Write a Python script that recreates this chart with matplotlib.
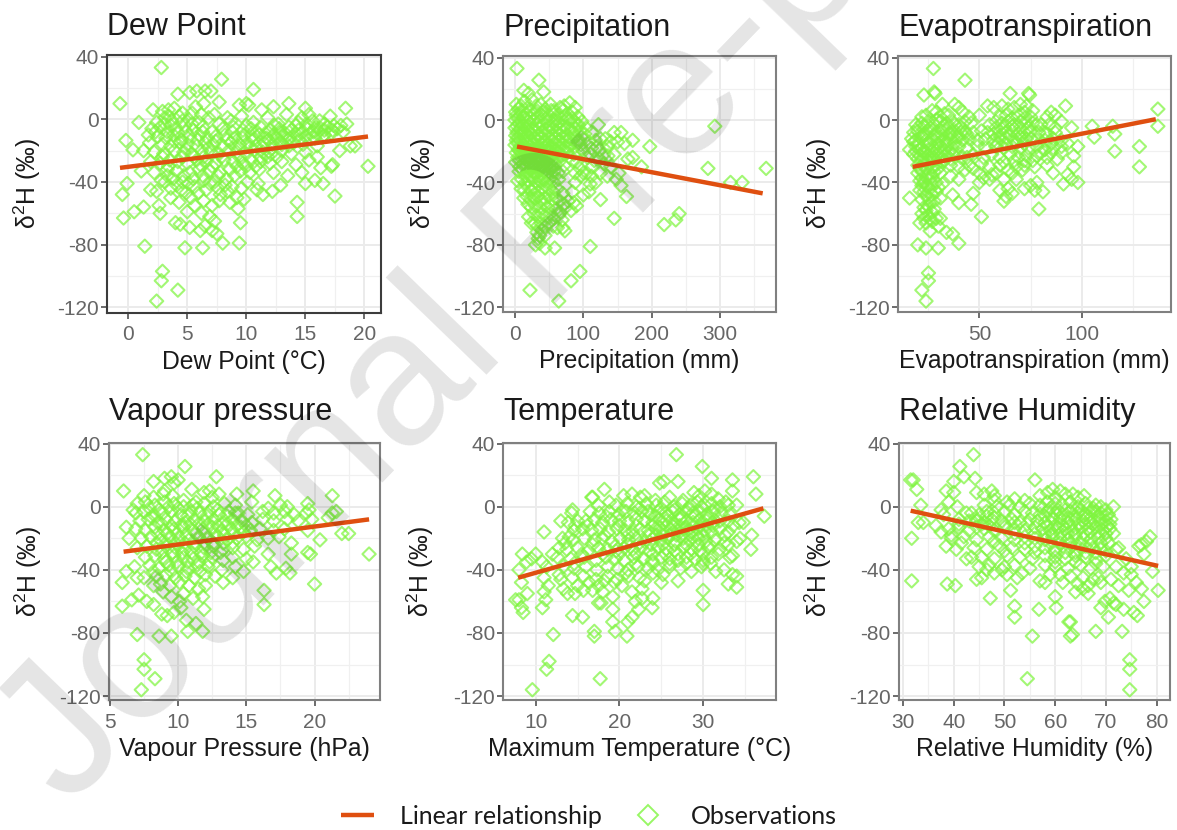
import matplotlib
matplotlib.use("Agg")
import matplotlib.pyplot as plt
from matplotlib.lines import Line2D
from matplotlib.ticker import FixedLocator

plt.rcParams['font.family'] = ['Liberation Sans', 'DejaVu Sans']
plt.rcParams['mathtext.fontset'] = 'custom'
plt.rcParams['mathtext.rm'] = 'Liberation Sans'
plt.rcParams['mathtext.default'] = 'regular'
plt.rcParams['axes.unicode_minus'] = False

W, H = 1177, 830

titles = ["Dew Point", "Precipitation", "Evapotranspiration", "Vapour pressure", "Temperature", "Relative Humidity"]
xlabels = ["Dew Point (°C)", "Precipitation (mm)", "Evapotranspiration (mm)", "Vapour Pressure (hPa)",
           "Maximum Temperature (°C)", "Relative Humidity (%)"]
ylabel = r"$\delta^{2}$H (‰)"
yticks = [40, 0, -40, -80, -120]
yminor = [20, -20, -60, -100]

dew_pts = [(-0.7,10),(2.8,33),(7.9,25.5),(10.6,19),(-0.2,-13.5),(0.4,-19.5),(0.9,-2),(-0.1,-41),(-0.5,-48),(-0.4,-63),(0.5,-59),(1.3,-56),(1.4,-81),(2.9,-97),(2.8,-103),(2.4,-116),(4.2,-109),(4.8,-82),(6.3,-82),(8,-79),(9.4,-79),(7.5,-73),(9.5,-66),(5.2,-69),(4,-66),(4.4,-67),(5,-59),(9.3,-57),(14.3,-53),(14.3,-62),(17.5,-49),(20.3,-30),(18.4,7),(19.2,-17),(18.8,-17),(15,7),(13.6,10),(12.3,8),(10,10),(9.4,9),(7.7,11),(6.5,18),(5.8,18),(5.2,17),(4.2,16),(7,18),(2.1,6),(2.6,-55),(2.7,-60),(5.6,-55),(6.2,-60),(6.9,-62),(7.3,-65),(6.5,-68),(7.1,-71),(6.1,-71),(7.7,-52),(8.6,-53),(9.8,-51),(9.2,-50),(2.4,-46),(1.9,-45),(3.6,-50),(4.3,-53),(4.9,-47),(3.1,-40),(1.3,-20),(1.7,-10),(2.3,-8),
(2.9,5),(3.4,6),(3.9,7),(4.6,4),(5.7,8),(6.4,10),(7.3,3),(8.4,1),(10.2,9),(11.3,6),(13.4,3),(14.7,1),(15.3,3),(16.2,-1),(17.1,2),
(2.4,-2),(3.1,1),(3.7,-1),(4.3,2),(5.1,0),(6,-2),(6.8,1),(7.7,-3),(8.7,-1),(9.6,2),(10.6,-2),(11.8,1),(12.7,-3),(14.4,-2),(15.6,-1),(16.6,-3),(17.4,-4),(18.5,-3),
(2,-6),(2.7,-5),(3.3,-8),(4,-6),(4.8,-4),(5.5,-7),(6.3,-5),(7.1,-8),(8,-6),(8.9,-5),(9.7,-7),(10.4,-6),(11.2,-5),(12,-7),(12.8,-6),(13.6,-5),(14.4,-7),(15.2,-6),(15.9,-5),(16.6,-7),(17.3,-7),(18.2,-8),
(2.5,-11),(3.2,-12),(3.8,-10),(4.5,-13),(5.2,-11),(6,-10),(6.7,-12),(7.4,-11),(8.2,-10),(9,-12),(9.8,-10),(10.5,-11),(11.1,-10),(11.7,-12),(12.3,-10),(13,-11),(13.7,-12),(14.3,-10),(15,-11),(15.8,-12),(16.5,-11),
(1.8,-15),(2.9,-16),(3.6,-17),(4.4,-15),(5,-16),(5.8,-17),(6.5,-15),(7.2,-16),(8,-17),(8.7,-15),(9.4,-16),(10.1,-15),(10.8,-17),(11.5,-15),(12.2,-16),(12.9,-15),(13.6,-17),(14.8,-16),(16,-17),(17.9,-20),
(2.2,-21),(3,-22),(3.9,-20),(4.7,-21),(5.4,-22),(6.2,-20),(7,-21),(7.7,-22),(8.5,-20),(9.2,-21),(10,-22),(10.7,-20),(11.4,-21),(12.1,-22),(13,-20),(13.8,-22),(15,-21),(16,-24),
(1.9,-27),(2.7,-28),(3.5,-26),(4.2,-27),(5,-28),(5.8,-26),(6.6,-27),(7.4,-28),(8.1,-26),(8.9,-27),(9.7,-28),(10.4,-26),(11.2,-27),(12,-28),(13,-27),(14.2,-29),(15.3,-26),(17.2,-30),(17.3,-29),
(1.1,-33),(2.2,-34),(3.3,-32),(4.1,-33),(5.2,-34),(6,-32),(6.9,-33),(7.8,-34),(8.6,-32),(9.5,-33),(10.3,-34),(11.1,-32),(12.3,-34),(13.5,-36),(14.7,-34),(16.3,-31),
(2.8,-39),(3.8,-38),(4.6,-40),(5.5,-38),(6.4,-39),(7.3,-40),(8.3,-38),(10.1,-40),(11,-41),(12.9,-42),(15,-41),(15.8,-39),(16.5,-41),
(3.6,-44),(4.5,-45),(5.6,-43),(6.6,-45),(7.6,-44),(8.4,-46),(10.9,-45),(11.4,-48),(12.2,-46),
(3.1,-3),(3.6,-4),(4.2,-9),(4.9,-8),(5.4,-3),(5.9,-13),(6.3,-8),(6.8,-18),(7.4,-14),(7.9,-24),(8.4,-13),(8.8,-8),(9.1,-18),(9.4,-24),(9.7,-12),(10,-4),(10.3,-18),(10.6,-13),(10.9,-8),(11.2,-24),(11.4,-18),(11.6,-9),(11.9,-13),(12.1,-19),(12.4,-4),(12.6,-12),(12.8,-8),(13,-16),(13.3,-9),(13.5,-13),(13.8,-7),(14,-15),(14.2,-4),(14.5,-13),(14.8,-8),(15.1,-3),(15.4,-9),(15.7,-8),(16,-9),(16.3,-6),(16.6,-10),(16.9,-5),(17.2,-9),(17.7,-6),(18,-4),(4.6,-24),(5.6,-24),(6.4,-24),(7.1,-30),(3.4,-30),(2.9,-24),(9.2,-30),(10.8,-30),(11.8,-24),(12.6,-24),(4.7,-36),(6.3,-36),(8.2,-42),
(3.3,-36),(4.1,-42),(5.1,-41),(5.9,-47),(6.9,-41),(7.8,-48),(8.8,-43),(9.6,-44),(5.3,-50),(6.4,-52),(7.1,-55),(3.4,2),(4.6,-1),(5.4,4),(6.2,3),(3.9,-14),(4.9,-19),(6.1,-29),(7.6,-36),(9,-36),(10,-30)]

prec_pts = [(3,33),(35,25.5),(13,19),(20,17),(42,18),(52,10),(80,11),(88,8),(2,10),(122,-3),(145,-8),(155,-8),(172,-13),(197,-17),(292,-4),(282,-31),(315,-40),(332,-40),(367,-31),(185,-30),(165,-25),(172,-24),(163,-49),(145,-63),(125,-51),(110,-81),(95,-97),(82,-103),(22,-109),(64,-116),(58,-82),(44,-82),(30,-80),(36,-79),(240,-60),(235,-64),(218,-67),(70,-69),(73,-71),(69,-64),(20,-62),(24,-66),(155,-42),(148,-38),(152,-34),(140,-14),(150,-14),(135,-17),(160,-15),(130,-22),(140,-30),(125,-34),(118,-40),(108,-46),(100,-48),(90,-55),(82,-58),(78,-52),(105,-34),(95,-31),
(1,5),(5,7),(9,9),(14,12),(19,8),(25,13),(31,9),(38,10),(44,7),(57,6),(66,8),(72,9),(84,5),(92,2),(98,-1),
(0,0),(4,1),(8,3),(12,2),(17,4),(22,1),(27,4),(33,2),(39,3),(45,1),(50,3),(56,0),(62,3),(68,1),(74,3),(80,0),(87,-1),(93,-3),(104,-5),
(0,-5),(3,-4),(7,-6),(11,-3),(15,-5),(20,-4),(25,-6),(30,-3),(35,-5),(40,-4),(46,-6),(51,-4),(56,-5),(61,-3),(66,-6),(71,-4),(76,-5),(82,-6),(88,-6),(95,-7),(102,-9),(112,-8),
(1,-10),(4,-11),(9,-9),(13,-11),(18,-10),(23,-9),(28,-11),(33,-10),(38,-12),(43,-9),(48,-11),(54,-10),(59,-12),(64,-9),(69,-11),(75,-10),(81,-12),(87,-11),(94,-13),(100,-12),(108,-14),(118,-13),(125,-12),
(0,-16),(4,-15),(8,-17),(13,-16),(17,-15),(22,-17),(27,-15),(32,-16),(37,-17),(42,-15),(47,-16),(52,-17),(57,-15),(62,-16),(68,-15),(74,-17),(80,-16),(88,-17),(96,-16),(112,-18),(120,-17),
(2,-21),(7,-20),(11,-22),(16,-20),(21,-21),(26,-22),(31,-20),(36,-21),(41,-22),(46,-20),(51,-21),(56,-22),(62,-21),(68,-23),(76,-21),(86,-22),(106,-24),(124,-25),(136,-23),
(1,-27),(6,-26),(12,-28),(18,-26),(23,-27),(28,-28),(33,-26),(38,-27),(43,-28),(48,-26),(53,-27),(58,-28),(64,-27),(72,-29),(90,-27),(112,-30),(130,-28),
(6,-33),(11,-32),(17,-34),(22,-32),(27,-33),(32,-34),(37,-32),(42,-33),(47,-34),(52,-32),(57,-33),(63,-34),(70,-33),(88,-34),(96,-36),(112,-36),
(4,-39),(10,-38),(15,-40),(20,-39),(26,-38),(31,-40),(36,-39),(41,-38),(46,-40),(51,-38),(57,-40),(64,-38),(88,-40),(110,-41),
(9,-44),(14,-45),(19,-43),(24,-45),(29,-44),(34,-46),(39,-44),(44,-45),(50,-44),(56,-46),(62,-44),(70,-47),(84,-46),
(13,-50),(18,-49),(23,-51),(28,-50),(33,-49),(38,-51),(43,-50),(49,-49),(55,-51),(60,-50),(66,-52),(72,-54),(86,-53),
(19,-54),(24,-56),(30,-55),(36,-56),(42,-54),(48,-56),(54,-55),(60,-57),(66,-59),(74,-56),
(28,-60),(34,-62),(40,-60),(46,-62),(52,-60),(57,-63),(64,-61),
(29,-66),(33,-68),(38,-66),(44,-68),(50,-66),(56,-68),(62,-69),(32,-72),(36,-74),(40,-71),(34,-76),(44,-74),
(2,3),(6,-2),(10,6),(15,1),(20,-1),(24,6),(28,0),(32,6),(36,-1),(41,5),(47,-1),(53,6),(59,0),(65,-2),(70,6),(76,1),(83,1),(90,-3),(3,-8),(6,-13),(10,-7),(15,-8),(16,-13),(20,-7),(24,-13),(29,-6),(34,-13),(39,-8),(44,-13),(49,-7),(55,-13),(60,-7),(65,-13),(71,-7),(77,-13),(84,-8),(90,-14),(2,-13),(5,-19),(10,-19),(14,-18),(19,-19),(24,-19),(29,-19),(34,-19),(39,-19),(44,-18),(49,-19),(54,-19),(60,-19),(66,-18),(71,-19),(78,-18),(4,-24),(9,-24),(14,-24),(19,-24),(24,-24),(30,-24),(35,-24),(40,-25),(45,-24),(51,-24),(56,-25),(61,-24),(7,-30),(14,-30),(20,-30),(25,-30),(30,-30),(35,-30),(40,-30),(45,-30),(50,-30),(55,-30),(16,-36),(24,-36),(34,-36),(44,-36),(54,-36),(110,-22),(116,-26),(100,-20),(92,-20),(84,-26),(100,-34),(124,-19),(132,-12),(145,-22),(135,-36)]

et_pts = [(27.6,33),(43,25.5),(28,18),(28.4,17),(23,16),(65,17),(74,17),(74.5,16),(32,10),(92,9),(137,7),(137,-4),(105,-4),(115,-4),(106,-11),(116,-9),(98,-17),(116,-20),(128,-17),(128,-30),(98,-40),(95,-38),(91,-41),(79,-57),(81,-46),(72,-44),(62,-52),(66,-47),(60,-45),(51,-62),(46,-54),(40,-53),(37,-48),(47,-47),(16,-50),(20,-80),(24,-82),(30,-82),(40,-79),(37,-73),(34,-72),(21,-66),(25.2,-98),(25.2,-103),(22,-109),(24,-116),(63,-49),(64,-44),(75,-42),(77,-45),(78,-40),(86,-34),(93,-35),(96,-30),(96,-23),(93,-15),(90,-21),(87,-5),(90,-1),(95,-5),(40,-38),(31,-63),(30,-68),(26,-71),
(24,3),(22,2),(27,6),(29,5),(33,4),(38,10),(40,8),(42,5),(35,3),(31,2),(45,2),(50,3),(54,9),(57,8),(61,9),(64,7),(67,8),(70,10),(73,9),(76,6),(72,5),(85,5),(87,3),(83,2),
(19,-3),(22,-2),(25,-1),(28,-3),(31,-1),(34,-2),(37,-1),(40,-3),(43,-1),(46,-2),(55,-3),(58,-1),(61,-2),(64,-1),(67,-3),(70,-1),(73,-2),(76,-2),(80,-3),(84,-3),
(18,-8),(20,-7),(23,-9),(26,-7),(29,-8),(32,-7),(35,-9),(38,-7),(41,-8),(44,-9),(47,-8),(51,-7),(54,-8),(57,-9),(60,-7),(63,-8),(66,-7),(69,-9),(72,-8),(75,-7),(79,-8),(83,-9),(87,-8),
(17,-12),(19,-13),(21,-11),(24,-13),(27,-12),(30,-11),(33,-13),(36,-12),(39,-11),(42,-13),(45,-12),(49,-13),(53,-12),(57,-13),(60,-12),(63,-11),(67,-13),(71,-12),(75,-12),(78,-13),(82,-13),(86,-12),(90,-13),
(16,-19),(19,-17),(22,-18),(25,-16),(28,-18),(31,-17),(34,-16),(37,-18),(40,-17),(44,-18),(49,-17),(53,-18),(58,-17),(62,-18),(66,-17),(70,-18),(74,-18),(78,-17),(82,-19),(86,-18),(90,-17),
(18,-22),(21,-23),(24,-21),(27,-23),(30,-22),(33,-23),(37,-22),(41,-24),(47,-22),(52,-24),(56,-22),(60,-24),(65,-22),(69,-24),(73,-23),(78,-23),(83,-24),(88,-25),
(20,-29),(23,-28),(26,-27),(29,-29),(32,-27),(36,-29),(40,-30),(45,-29),(51,-28),(55,-30),(60,-29),(64,-32),(68,-30),(72,-29),(77,-30),(83,-29),
(20,-34),(22,-33),(25,-35),(28,-33),(31,-34),(36,-36),(43,-32),(52,-37),(56,-35),(66,-34),(71,-32),
(21,-39),(23,-40),(26,-38),(29,-40),(32,-41),(50,-40),(55,-38),
(21,-45),(23,-46),(26,-44),(29,-46),(31,-50),(22,-51),(25,-50),(28,-52),(23,-56),(25,-55),(28,-57),(22,-60),(25,-61),(27,-59),(24,-66),(27,-65),(29,-63),
(20,-5),(23,-4),(26,-5),(29,0),(32,-5),(35,-5),(38,-3),(41,-5),(18,-14),(20,-15),(22,-10),(24,-9),(26,-15),(28,-10),(30,-15),(32,-10),(34,-14),(36,-9),(38,-15),(40,-11),(43,-8),(19,-20),(21,-19),(23,-21),(25,-19),(27,-20),(29,-20),(31,-20),(33,-19),(35,-21),(38,-21),(20,-25),(22,-26),(24,-25),(26,-24),(28,-26),(30,-25),(33,-26),(36,-25),(21,-31),(24,-31),(27,-30),(30,-31),(22,-37),(24,-37),(27,-36),(22,-42),(24,-42),(27,-41),(30,-43),(24,-48),(27,-48),(26,-53),(24,-58),(26,-63),(23,-63),(58,-5),(62,-5),(66,-4),(70,-5),(74,-5),(60,-10),(65,-10),(70,-11),(73,-12),(59,-15),(63,-15),(68,-15),(72,-15),(85,-15),(80,-21),(85,-21),
(60,2),(63,3),(66,1),(69,3),(72,1),(75,2),(62,-27),(67,-26),(72,-26),(76,-26),(58,-34),(62,-38),(68,-38),(47,-31),(50,-34),(44,-24),(78,-3),(82,-8)]

vap_pts = [(6,10),(7.4,33),(10.5,25.5),(12.8,19),(6.2,-13),(6.4,-20),(6.7,-2),(6.2,-41),(5.9,-48),(5.9,-63),(6.6,-59),(7.1,-56),(7,-81),(7.5,-97),(7.5,-103),(7.3,-116),(8.3,-109),(8.6,-82),(9.5,-82),(10.7,-79),(11.8,-79),(11.9,-65),(11.8,-57),(16.3,-53),(16.3,-62),(20,-49),(24,-30),(21.3,7),(22.5,-17),(22,-17),(20.4,-21),(19.7,-30),(19.5,-29),(19.5,2),(17.1,7),(15.5,10),(14.3,8),(18.3,-23),(18.3,-30),(17.9,-39),(18.2,-42),(17.2,-42),(16.8,-38),(15.5,-35),(14.8,-41),(13.3,-48),(14,-45),(8.2,16),(9,18),(9.5,19),(10,17),(9.7,15),(11,11),(11.9,9),(12.3,10),(13,8),(9,10),(7.7,-60),(8.2,-62),(8.8,-68),(9.2,-69),(9.7,-67),(10.2,-64),(10.6,-72),(11.3,-74),(8.2,-50),(8.9,-54),(9.5,-57),(10.1,-60),(12,-50),(7.5,-45),(7,-45),
(7.5,7),(8.2,6),(8.9,8),(9.6,7),(10.4,4),(11.3,3),(12.5,6),
(7,2),(7.6,3),(8.3,1),(9,3),(9.7,2),(10.4,0),(11.1,1),(11.9,2),(12.6,0),(13.4,2),(14.2,1),(15.4,3),(16.6,-1),(17.5,1),(18,0),(19.6,-2),
(6.9,-4),(7.5,-3),(8.2,-5),(8.9,-4),(9.5,-3),(10.2,-5),(10.9,-3),(11.6,-4),(12.3,-3),(13,-5),(13.7,-3),(14.4,-4),(15.1,-5),(16.2,-3),(17,-4),(17.8,-3),(18.5,-5),(19.4,-4),(21.3,-4),(21.6,-3),
(7.2,-9),(7.8,-8),(8.5,-10),(9.1,-8),(9.8,-9),(10.5,-10),(11.2,-8),(11.9,-9),(12.6,-8),(13.3,-10),(14,-8),(14.7,-9),(15.4,-10),(16.2,-8),(17,-9),(18,-8),(18.8,-9),(19.8,-8),(21,-7),
(6.9,-14),(7.6,-15),(8.3,-13),(9,-15),(9.7,-14),(10.4,-13),(11.1,-15),(11.8,-14),(12.5,-13),(13.2,-15),(13.9,-14),(14.6,-13),(15.3,-15),(16,-14),(17,-15),(17.8,-14),(19.5,-15),
(7.3,-20),(8,-19),(8.7,-21),(9.4,-19),(10.1,-20),(10.8,-21),(11.5,-19),(12.2,-20),(12.9,-19),(13.6,-21),(14.3,-20),(15,-19),(15.8,-21),(16.6,-20),(17.4,-19),
(7,-26),(7.7,-25),(8.4,-27),(9.1,-25),(9.8,-26),(10.5,-27),(11.2,-25),(11.9,-26),(12.6,-25),(13.3,-27),(14,-26),(14.8,-27),(15.6,-25),(16.6,-30),
(7.6,-32),(8.3,-31),(9,-33),(9.7,-31),(10.4,-32),(11.1,-33),(11.8,-31),(12.5,-32),(13.3,-34),(14,-32),(15,-33),
(6.8,-38),(7.9,-37),(8.6,-39),(9.3,-37),(10,-38),(10.7,-39),(11.4,-37),(12.2,-38),(13.2,-40),(14.2,-38),
(8.4,-44),(9.1,-43),(9.8,-45),(10.5,-44),(11.2,-45),(12,-43),(12.7,-44),
(8.7,-49),(9.4,-50),(10.1,-48),(10.8,-50),(11.5,-52),(10.4,-55),(11.1,-58),
(7.9,-1),(8.6,-2),(9.3,0),(10,-1),(10.7,-6),(11.4,-1),(12.1,-6),(12.9,-2),(13.6,-6),(14.2,-4),(8.1,-7),(8.8,-11),(9.5,-12),(10.2,-12),(10.9,-11),(11.5,-11),(12.2,-11),(12.9,-12),(13.6,-11),(14.3,-12),(15,-12),(8.5,-17),(9.2,-17),(9.9,-17),(10.6,-18),(11.3,-17),(12,-17),(12.7,-17),(13.4,-18),(14.1,-17),(14.8,-16),(8.4,-23),(9.1,-23),(9.8,-23),(10.5,-23),(11.2,-23),(11.9,-23),(12.6,-23),(13.3,-23),(14,-23),(8.8,-29),(9.6,-29),(10.3,-29),(11,-29),(11.7,-29),(12.4,-29),(13.1,-29),(9.1,-35),(9.9,-35),(10.7,-35),(11.5,-35),(12.3,-35),(8.2,-41),(9.5,-41),(10.6,-41),(11.6,-41)]

temp_pts = [(26.8,33),(29.9,25.5),(36,19),(31,18),(33.5,17),(27,16),(25.3,16),(24.8,15),(36.3,8),(33.5,10),(34,1),(37.3,-6),(35.8,-18),(35.7,-27),(34,-44),(34,-51),(33,-49),(33.5,-43),(30,-53),(30,-62),(27,-47),(25,-48),(24,-58),(23.9,-64),(22.3,-65),(21.5,-70),(21,-73),(20.9,-82),(19.5,-79),(19.2,-73),(19.2,-65),(19.2,-57),(17.5,-61),(17.8,-61),(17,-79),(17,-82),(17.7,-109),(11.3,-103),(11.6,-98),(12.1,-81),(9.6,-116),(14.4,-69),(15.6,-70),(8.5,-67),(8.3,-64),(7.6,-59),(8,-59),(9,-55),(10.8,-64),(11.2,-59),(8,-40),(8.3,-48),(11,-16),(8.4,-30),(10,-30),(9.5,-33),(14.4,-2),(14.3,-4),(16.7,6),(18.2,11),(16.8,6),(13,-9),(13.9,-10),(8.9,-35),(10.8,-35),(11.3,-38),(11,-45),(11.5,-50),(11,-54),(12,-30),(12.8,-26),(13.5,-23),(14,-19),(14.7,-12),(15,-9),(12.8,-43),(13.3,-52),(13.8,-55),(14.7,-55),(15.7,-53),(16.8,-53),(17.5,-50),(18.2,-47),(20.3,-50),(21.5,-54),(22.7,-52),(23,-47),(33.2,-32),(34.4,-20),(34.8,-10),(32.5,-40),(31.5,-41),
(20.5,7),(21.5,8),(22.5,6),(23,7),(24.3,4),(26,6),(27.6,4),(28.9,9),(29.5,7),(30.2,10),(31,8),(31.8,5),(32.7,3),
(17.5,1),(18.8,3),(19.6,1),(20.9,2),(22,0),(23.2,2),(24.4,1),(25.4,3),(26.5,0),(27.5,2),(28.5,1),(29.3,3),(30.2,1),(31,2),(32,0),(33,1),
(16.5,-3),(17.6,-4),(18.8,-3),(19.9,-5),(20.8,-3),(21.8,-4),(22.7,-3),(23.7,-5),(24.6,-3),(25.5,-4),(26.3,-3),(27.2,-5),(28,-3),(28.8,-4),(29.6,-3),(30.4,-5),(31.2,-3),(32.1,-4),(33.2,-5),
(16,-9),(17,-8),(18,-10),(19,-8),(20,-9),(21,-10),(22,-8),(23,-9),(24,-10),(24.8,-8),(25.6,-9),(26.4,-10),(27.2,-8),(28,-9),(28.8,-10),(29.6,-8),(30.4,-9),(31.2,-10),(32,-9),(33,-9),(34.3,-10),
(14.6,-15),(15.6,-14),(16.7,-15),(17.7,-14),(18.7,-16),(19.7,-14),(20.7,-15),(21.6,-16),(22.5,-14),(23.4,-15),(24.3,-14),(25.2,-16),(26.1,-14),(27,-15),(27.8,-14),(28.6,-16),(29.4,-14),(30.2,-15),(31,-16),(32,-14),(33,-16),
(13.2,-20),(14.5,-21),(15.8,-20),(17,-21),(18,-20),(19.1,-22),(20.1,-20),(21.1,-21),(22,-20),(23,-22),(24,-20),(24.9,-21),(25.8,-20),(26.7,-22),(27.6,-20),(28.5,-21),(29.4,-20),(30.3,-22),(31.4,-21),(32.5,-23),(34,-22),
(13.7,-27),(15,-26),(16.3,-28),(17.5,-26),(18.6,-27),(19.6,-28),(20.6,-26),(21.6,-27),(22.6,-26),(23.6,-28),(24.6,-26),(25.6,-27),(26.6,-28),(27.6,-26),(28.6,-27),(29.6,-28),(30.6,-26),(32,-27),(33.5,-31),
(12.6,-32),(14.2,-33),(15.8,-32),(17.2,-34),(18.4,-32),(19.5,-33),(20.6,-34),(21.7,-32),(22.8,-33),(23.9,-34),(25,-32),(26,-33),(27,-34),(28,-32),(29,-33),(30,-34),(31,-32),
(13.3,-38),(14.6,-39),(16,-38),(17.3,-40),(18.6,-38),(19.8,-39),(21,-40),(22.2,-38),(23.4,-39),(24.6,-40),(26,-38),(27.3,-39),(28.6,-41),(29.8,-38),
(13,-46),(14.4,-45),(15.7,-44),(17.2,-46),(18.6,-44),(19.7,-46),(21.1,-44),(22.4,-45),(24,-42),(25.2,-43),
(22.4,-1),(23.4,-3),(24.2,-6),(25,-1),(25.8,-6),(26.6,-2),(27.4,-7),(28.2,-1),(29,-6),(29.8,0),(30.6,-7),(31.4,-1),(24,-12),(24.8,-13),(25.6,-12),(26.4,-12),(27.2,-12),(28,-13),(28.8,-12),(29.6,-12),(30.4,-12),(31.2,-12),(23.6,-18),(24.4,-18),(25.2,-18),(26,-18),(26.8,-18),(27.6,-17),(28.4,-18),(29.2,-18),(30,-18),(21,-18),(22,-12),(20,-12),(18.2,-18),(19.5,-25),(21,-24),(22.4,-23),(23.8,-24),(25.2,-24),(26.6,-24),(28,-24),(29.4,-24),(30.8,-24),(24,-30),(25.5,-30),(27,-30),(28.5,-30),(30,-30),(22,-30),(20,-30),(18,-30),(24,-36),(26,-36),(28,-36),(30,-36),(22,-36),
(19.4,-48),(20.8,-42),(16.4,-48),(15,-50),(18,-54),(21.9,-60),(22.7,-58),(15.5,-30),(16.8,-24),(14.6,-36),(16.2,-12),(18.4,-6),(20.4,-2),(32.6,-18),(33.6,-12),(31.8,-30),(33,-24),(30.9,-36)]

rh_pts = [(31.5,17),(32,17),(32.7,11),(33.5,1),(33,-10),(34,-10),(31.7,-20),(31.7,-47),(43.9,33),(41.2,25.5),(42,19),(44.2,18),(40,16),(38.5,10),(40,9),(39,3),(40.7,0),(44.5,9),(46,8),(47.5,10),(48,7),(56,17),(38.7,-49),(40.3,-50),(47.2,-58),(51.2,-53),(52,-63),(52,-70),(55.5,-82),(54.5,-109),(56.8,-65),(60,-57),(60.2,-64),(62.7,-73),(63,-73),(63,-82),(63.4,-81),(68,-79),(73.2,-79),(74.7,-97),(74.7,-103),(74.7,-116),(80.3,-53),(79.2,-41),(78.7,-19),(77,-24),(76.5,-25),(78,-22),(77.5,-30),(77.5,-60),(76.2,-69),(75.5,-67),(74.5,-53),(70.5,-70),(69,-64),(72,-62),(73.5,-65),(71.5,0),(65.7,7),(68,1),(36.5,-12),(37.5,-16),(38.5,-25),(39.5,-18),(40.5,-27),(41.5,-23),(42.5,-33),(43.5,-32),(44.5,-46),(45.5,-45),(46.5,-40),(48,-42),(49.5,-40),(50.5,-43),(52.5,-45),(53.5,-42),(57,-47),(58,-48),(61.5,-48),(64,-54),(65.5,-52),(66.5,-55),(68.5,-45),(69.8,-60),(70.8,-58),(71.5,-61),(72.5,-50),(75,-43),(76,-48),(77,-52),(73.5,-42),(72,-27),(71.5,-17),(38,-5),(37.5,-2),(41,-11),(42.5,-4),
(52,5),(54,4),(57,7),(58.5,9),(59.5,11),(61,10),(62,8),(63.5,8),(64.5,6),(60,6),(48,4),(50.5,3),
(46,1),(48.5,0),(51,1),(53,0),(55,2),(57,1),(58.5,3),(60,2),(61.5,1),(63,3),(64.5,0),(66,2),(67.5,-1),(69,0),(70,-2),
(43.5,-4),(45,-5),(46.5,-3),(48,-4),(50,-3),(52,-5),(54,-3),(55.5,-4),(57,-5),(58.5,-3),(60,-4),(61.5,-5),(63,-3),(64.5,-4),(66,-5),(67.5,-3),(69,-4),(70.5,-5),
(41,-8),(43,-9),(44.5,-8),(46,-10),(47.5,-8),(49.5,-9),(51.5,-8),(53,-10),(55,-8),(56.5,-9),(58,-10),(59.5,-8),(61,-9),(62.5,-10),(64,-8),(65.5,-9),(67,-10),(68.5,-8),(70,-9),(71,-8),
(39,-14),(41,-13),(43,-15),(44.5,-13),(46,-14),(48,-15),(50,-13),(52,-14),(54,-15),(56,-13),(57.5,-14),(59,-15),(60.5,-13),(62,-14),(63.5,-15),(65,-13),(66.5,-14),(68,-13),(69.5,-15),(70.8,-14),
(39.5,-20),(42,-19),(44.5,-21),(47,-19),(49.5,-20),(52,-21),(54,-19),(56,-20),(58,-21),(59.5,-19),(61,-20),(62.5,-21),(64,-19),(65.5,-20),(67,-21),(68.5,-19),(70,-20),
(44,-26),(46.5,-27),(49,-25),(51.5,-26),(54,-27),(56,-25),(58,-26),(60,-27),(61.5,-25),(63,-26),(64.5,-27),(66,-25),(67.5,-26),(69,-27),(72.5,-26),
(45.5,-32),(48,-33),(50.5,-31),(53,-32),(55.5,-33),(58,-31),(60,-32),(62,-33),(64,-31),(66,-32),(68,-33),(70,-31),(74,-33),
(45,-38),(47,-37),(50,-38),(52,-37),(55,-39),(58,-37),(60,-38),(62.5,-39),(65,-37),(67,-39),(69.5,-38),(72,-38),(75,-38),
(59,-43),(61,-43),(63,-44),(65.5,-45),(67.5,-46),(69,-48),(71,-46),(64.5,-49),(66.5,-50),
(44.5,-9),(45.5,-11),(46.5,-6),(47,-12),(48,-7),(57.5,-1),(59,-1),(60.5,-2),(62,-2),(63.5,-1),(65,-2),(66.5,-1),(68,-3),(58,-6),(59.5,-7),(61,-7),(62.5,-7),(64,-6),(65.5,-6),(67,-7),(68.5,-6),(70,-6),(70.8,-11),(58.5,-12),(60,-12),(61.5,-12),(63,-12),(64.5,-11),(66,-11),(67.5,-11),(69,-11),(70.3,-12),(58,-17),(59.5,-17),(61,-17),(62.5,-17),(64,-17),(65.5,-17),(67,-16),(68.5,-16),(70,-17),(59,-23),(61,-23),(63,-23),(65,-23),(67,-24),(69,-23),(70.5,-23),(60,-29),(62,-29),(64,-29),(66,-29),(68,-29),(70,-28),(52,-10),(54.5,-11),(50,-11),(56,-17),(52,-17),(48,-22),(54,-23),(50,-28),(56,-29),(60,-35),(64,-35),(68,-36)]

series = [dew_pts, prec_pts, et_pts, vap_pts, temp_pts, rh_pts]

fit_x = [[-0.7, 20.3], [3, 362], [17.5, 136], [6, 24], [7.9, 37.2], [31.5, 80.3]]
fit_y = [[-31, -11], [-17, -47], [-30, 0.5], [-28.5, -8], [-45, -1], [-2.5, -37.5]]

xticks = [[0, 5, 10, 15, 20], [0, 100, 200, 300], [50, 100], [5, 10, 15, 20], [10, 20, 30], [30, 40, 50, 60, 70, 80]]
xminor = [[2.5, 7.5, 12.5, 17.5], [50, 150, 250, 350], [25, 75, 125], [7.5, 12.5, 17.5, 22.5], [15, 25, 35], [35, 45, 55, 65, 75]]
xlims = [(-1.8, 21.4), (-17, 381), (10.5, 143.4), (4.93, 24.8), (6.13, 38.7), (29.2, 82.7)]
ylims = [(-123.6, 41), (-123, 41), (-123, 41), (-122.5, 40.4), (-122.5, 40.4), (-122.5, 40.4)]
# panel boxes in pixels: left, right, top, bottom
boxes = [(107, 381, 55, 313), (503.3, 775.7, 56, 312), (898.3, 1171, 56, 312),
         (109, 380, 443, 700), (503.3, 776, 443, 700), (899, 1170.3, 443, 700)]
ylab_x = [27, 422, 818, 28, 420, 818]
title_pad = [14.4, 14.4, 14.4, 16.5, 16.5, 16.5]
spine_col = ['#3c3c3c', '#808080', '#808080', '#808080', '#808080', '#808080']

GREEN = '#7FF53F'
RED = '#DF4F10'

fig = plt.figure(figsize=(W / 100, H / 100), dpi=100, facecolor='white')

for i in range(6):
    l, r, t, b = boxes[i]
    ax = fig.add_axes([l / W, 1 - b / H, (r - l) / W, (b - t) / H])
    ax.set_xlim(*xlims[i]); ax.set_ylim(*ylims[i])
    ax.set_xticks(xticks[i]); ax.set_yticks(yticks)
    ax.xaxis.set_minor_locator(FixedLocator(xminor[i]))
    ax.yaxis.set_minor_locator(FixedLocator(yminor))
    ax.grid(True, which='major', color='#EBEBEB', lw=1.4, zorder=0)
    ax.grid(True, which='minor', color='#F0F0F0', lw=0.9, zorder=0)
    ax.set_axisbelow(True)
    ax.tick_params(which='minor', length=0)
    ax.tick_params(axis='y', which='major', length=4, width=1.1, color='#444444', labelcolor='#666666', labelsize=15, pad=2)
    ax.tick_params(axis='x', which='major', length=4, width=1.1, color='#444444', labelcolor='#666666', labelsize=15, pad=5)
    for s in ax.spines.values():
        s.set_color(spine_col[i]); s.set_linewidth(1.5)
    xs, ys = zip(*series[i])
    ax.scatter(xs, ys, marker='D', s=46, facecolors='none', edgecolors=GREEN, linewidths=1.5, alpha=0.72, zorder=3, clip_on=False)
    ax.plot(fit_x[i], fit_y[i], color=RED, lw=3.2, solid_capstyle='butt', zorder=4)
    ax.set_title(titles[i], loc='left', fontsize=22, color='#1a1a1a', pad=title_pad[i])
    ax.set_xlabel(xlabels[i], fontsize=17.8, color='#1a1a1a', labelpad=4)
    ax.set_ylabel(ylabel, fontsize=17.8, color='#1a1a1a')
    ax.yaxis.set_label_coords((ylab_x[i] - l) / (r - l), 0.5)
    ax.yaxis.label.set_verticalalignment('center')

handles = [Line2D([], [], color=RED, lw=3.2, solid_capstyle='butt'),
           Line2D([], [], color=GREEN, marker='D', ms=10, mfc='none', mew=1.4, ls='none', alpha=0.8)]
fig.legend(handles, ["Linear relationship", "Observations"], ncol=2, frameon=False,
           loc='center', bbox_to_anchor=(589 / W, 1 - 816 / H),
           prop={'family': 'Lato', 'size': 18}, handlelength=1.32, handletextpad=1.04, columnspacing=1.2,
           labelcolor='#1a1a1a', numpoints=1, borderpad=0, borderaxespad=0)

fig.text(68 / W, 1 - 808 / H, "Journal Pre-proof", fontsize=139, color='black', alpha=0.105,
         rotation=46, rotation_mode='anchor', ha='left', va='baseline', zorder=20)

fig.savefig('out.png', dpi=100, facecolor='white')
